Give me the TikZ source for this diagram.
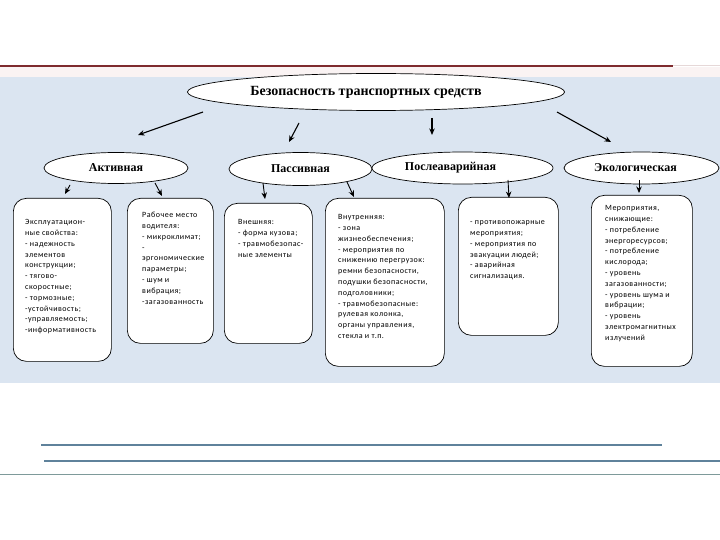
\documentclass[tikz,border=0pt]{standalone}
\usepackage{fontspec}
\setmainfont{Liberation Serif}
\newfontfamily\boxfont[LetterSpace=6]{Carlito}
\usetikzlibrary{shapes.geometric,arrows.meta}
\definecolor{bgblue}{HTML}{DBE5F1}
\definecolor{pinkband}{HTML}{FAF3F3}
\definecolor{maroon}{HTML}{7E2B2E}
\definecolor{paleline}{HTML}{E6D8D8}
\definecolor{steel}{HTML}{5F829B}
\definecolor{greyteal}{HTML}{7E9A9A}
\begin{document}
\begin{tikzpicture}[x=1pt,y=-1pt,
  ell/.style={ellipse, draw=black, line width=0.7pt, fill=white, inner sep=0pt,
    font=\bfseries\fontsize{12}{14}\selectfont},
  bx/.style={draw=black, line width=0.7pt, fill=white, rounded corners=13pt,
    inner sep=0pt, anchor=north west},
  btxt/.style={anchor=north west, inner sep=0pt, align=left,
    font=\boxfont\fontsize{8}{10.8}\selectfont},
  arr/.style={line width=1.1pt, -{Stealth[length=6.5pt,width=5.5pt]}},
]
\useasboundingbox (0,0) rectangle (720,540);
\fill[white] (0,0) rectangle (720,540);
% background bands
\fill[pinkband] (0,67) rectangle (720,77);
\fill[bgblue] (0,77) rectangle (720,383);
\draw[maroon, line width=2.2pt] (0,66) -- (673,66);
\draw[paleline, line width=1pt] (673,66) -- (720,66);
% bottom lines
\draw[steel, line width=1.8pt] (41,445) -- (662,445);
\draw[steel, line width=1.8pt] (44,461) -- (720,461);
\draw[greyteal, line width=0.8pt] (0,474) -- (720,474);

% ellipses
\node[ell, minimum width=377pt, minimum height=37pt,
  font=\bfseries\fontsize{14}{16}\selectfont] (top) at (376,92)
  {Безопасность транспортных средств\hspace*{20pt}};
\node[ell, minimum width=144pt, minimum height=31pt] (act) at (116,168) {Активная};
\node[ell, minimum width=143pt, minimum height=33pt] (pas) at (300.5,169) {Пассивная};
\node[ell, minimum width=181pt, minimum height=32pt] (post) at (462.5,168) {Послеаварийная\hspace*{24pt}};
\node[ell, minimum width=155pt, minimum height=32pt] (eco) at (641.5,168) {Экологическая\hspace*{12pt}};

% boxes
\node[bx, minimum width=98pt, minimum height=163pt] (b1) at (13,198) {};
\node[bx, minimum width=86pt, minimum height=145pt] (b2) at (127,198) {};
\node[bx, minimum width=88pt, minimum height=140pt] (b3) at (224,203) {};
\node[bx, minimum width=119pt, minimum height=168pt] (b4) at (325,198) {};
\node[bx, minimum width=100pt, minimum height=138pt] (b5) at (458,197) {};
\node[bx, minimum width=101pt, minimum height=171pt] (b6) at (591,195) {};

% box texts
\node[btxt] (t1) at (25,217) {\strut Эксплуатацион-\\ные свойства:\\- надежность\\элементов\\конструкции;\\- тягово-\\скоростные;\\- тормозные;\\-устойчивость;\\-управляемость;\\-информативность};
\node[btxt] (t2) at (142,210) {\strut Рабочее место\\водителя:\\- микроклимат;\\-\\эргономические\\параметры;\\- шум и\\вибрация;\\-загазованность};
\node[btxt] (t3) at (238,217) {\strut Внешняя:\\- форма кузова;\\- травмобезопас-\\ные элементы};
\node[btxt] (t4) at (338,212) {\strut Внутренняя:\\- зона\\жизнеобеспечения;\\- мероприятия по\\снижению перегрузок:\\ремни безопасности,\\подушки безопасности,\\подголовники;\\- травмобезопасные:\\рулевая колонка,\\органы управления,\\стекла и т.п.};
\node[btxt] (t5) at (470,217) {\strut - противопожарные\\мероприятия;\\- мероприятия по\\эвакуации людей;\\- аварийная\\сигнализация.};
\node[btxt] (t6) at (605,203) {\strut Мероприятия,\\снижающие:\\- потребление\\энергоресурсов;\\- потребление\\кислорода;\\- уровень\\загазованности;\\- уровень шума и\\вибрации;\\- уровень\\электромагнитных\\излучений};

% arrow end points
\coordinate (s1) at (203,112); \coordinate (e1) at (138,135);
\coordinate (s2) at (299,123); \coordinate (e2) at (289,142);
\coordinate (s3) at (432,118); \coordinate (e3) at (432,135);
\coordinate (s4) at (557,112); \coordinate (e4) at (611,142);
\coordinate (s5) at (70,185);  \coordinate (e5) at (65,194);
\coordinate (s6) at (155,183); \coordinate (e6) at (162,196);
\coordinate (s7) at (263,183); \coordinate (e7) at (265,199);
\coordinate (s8) at (347,182); \coordinate (e8) at (354,197);
\coordinate (s9) at (508,180); \coordinate (e9) at (509,198);
\coordinate (s10) at (639,180); \coordinate (e10) at (639,193);
\draw[arr] (s1) -- (e1);
\draw[arr] (s2) -- (e2);
\draw[arr] (s3) -- (e3);
\draw[arr] (s4) -- (e4);
\draw[arr, line width=0.9pt] (s5) -- (e5);
\draw[arr, line width=0.9pt] (s6) -- (e6);
\draw[arr, line width=0.9pt] (s7) -- (e7);
\draw[arr, line width=0.9pt] (s8) -- (e8);
\draw[arr, line width=0.9pt] (s9) -- (e9);
\draw[arr, line width=0.9pt] (s10) -- (e10);
\end{tikzpicture}
\end{document}
